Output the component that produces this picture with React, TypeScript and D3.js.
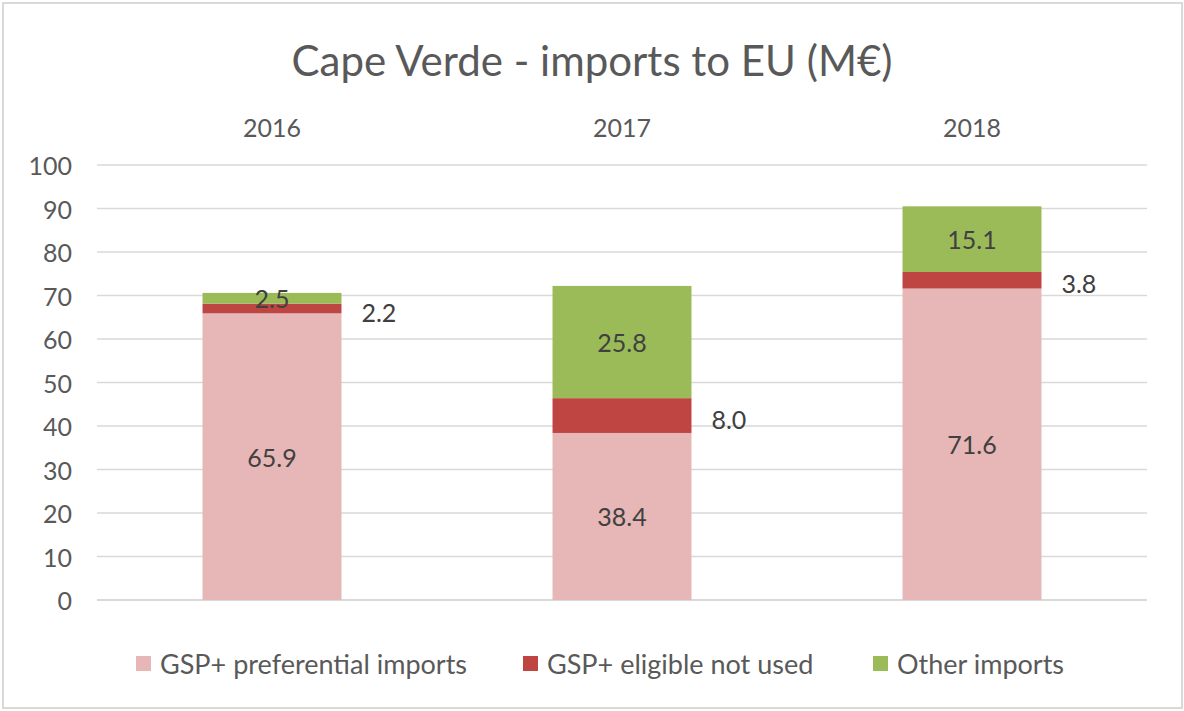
import React from "react";
import * as d3 from "d3";

const years = ["2016", "2017", "2018"];
const preferential = [65.9, 38.4, 71.6];
const eligibleNotUsed = [2.2, 8.0, 3.8];
const otherImports = [2.5, 25.8, 15.1];
const seriesNames = ["GSP+ preferential imports", "GSP+ eligible not used", "Other imports"];
const seriesColors = ["#E6B7B6", "#BF4542", "#9BBB59"];
const yTicks = [0, 10, 20, 30, 40, 50, 60, 70, 80, 90, 100];
const titleText = "Cape Verde - imports to EU (M€)";

const W = 1184;
const H = 711;
const FONT = "Lato, 'Open Sans', sans-serif";
const TEXT = "#595959";
const NUM = 25;

export default function App() {
  const x = d3.scaleBand<string>().domain(years).range([97, 1147]).paddingInner(0.603).paddingOuter(0.3015);
  const y = d3.scaleLinear().domain([0, 100]).range([600, 165]);

  const table = years.map((yr, i) => ({
    year: yr,
    pref: preferential[i],
    elig: eligibleNotUsed[i],
    other: otherImports[i],
  }));
  const stack = d3.stack<any>().keys(["pref", "elig", "other"]);
  const series = stack(table);

  const legendX = [136, 523, 873];

  return (
    <svg width={W} height={H} style={{ position: "absolute", left: 0, top: 0, background: "#fff" }} fontFamily={FONT}>
      <rect x={3} y={3} width={1179} height={705} fill="#fff" stroke="#D9D9D9" strokeWidth={2} />
      <text x={592} y={60} textAnchor="middle" dominantBaseline="central" fontSize={42} fill={TEXT}>
        {titleText}
      </text>
      {yTicks.map((t) => (
        <g key={t}>
          <line x1={97} x2={1147} y1={y(t)} y2={y(t)} stroke="#D9D9D9" strokeWidth={t === 0 ? 2 : 1.5} />
          <text x={72} y={y(t)} textAnchor="end" dominantBaseline="central" fontSize={NUM} fill={TEXT}>
            {t}
          </text>
        </g>
      ))}
      {years.map((yr) => (
        <text key={yr} x={(x(yr) as number) + x.bandwidth() / 2} y={127} textAnchor="middle" dominantBaseline="central" fontSize={NUM} fill={TEXT}>
          {yr}
        </text>
      ))}
      {series.map((s, si) => (
        <g key={si}>
          {s.map((d, i) => {
            const bx = x(years[i]) as number;
            return (
              <rect key={i} x={bx} y={y(d[1])} width={x.bandwidth()} height={y(d[0]) - y(d[1])} fill={seriesColors[si]} />
            );
          })}
        </g>
      ))}
      {series.map((s, si) => (
        <g key={"l" + si}>
          {s.map((d, i) => {
            const bx = x(years[i]) as number;
            const v = d[1] - d[0];
            const cy = y((d[0] + d[1]) / 2);
            if (si === 1) {
              return (
                <text key={i} x={bx + x.bandwidth() + 20} y={cy + 3} dominantBaseline="central" fontSize={NUM} fill="#404040">
                  {v.toFixed(1)}
                </text>
              );
            }
            return (
              <text key={i} x={bx + x.bandwidth() / 2} y={cy} textAnchor="middle" dominantBaseline="central" fontSize={NUM} fill="#404040">
                {v.toFixed(1)}
              </text>
            );
          })}
        </g>
      ))}
      {seriesNames.map((n, i) => (
        <g key={n}>
          <rect x={legendX[i]} y={656} width={15} height={15} fill={seriesColors[i]} />
          <text x={legendX[i] + 24} y={663.5} dominantBaseline="central" fontSize={27} fill={TEXT}>
            {n}
          </text>
        </g>
      ))}
    </svg>
  );
}
